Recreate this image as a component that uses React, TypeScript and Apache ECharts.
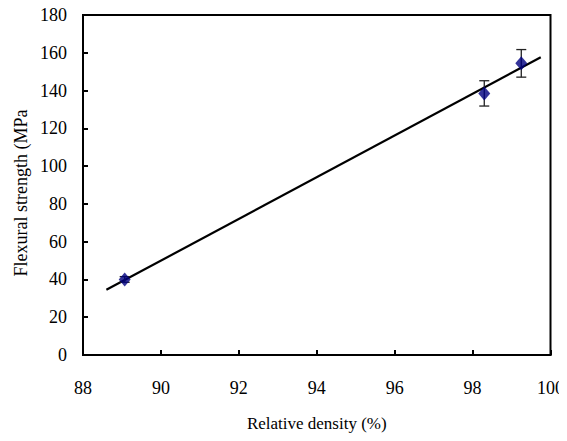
import React, { useEffect, useRef } from "react";
import * as echarts from "echarts";

const densities = [89.07, 98.3, 99.25];
const strengths = [40.0, 138.5, 154.4];
const errors = [1.5, 6.7, 7.3];
const fitX = [88.6, 99.75];
const fitY = [34.5, 157.6];
const xTicks = { min: 88, max: 100, interval: 2 };
const yTicks = { min: 0, max: 180, interval: 20 };

const FONT = "Liberation Serif";

export default function App() {
  const ref = useRef<HTMLDivElement>(null);
  useEffect(() => {
    if (!ref.current) return;
    const chart = echarts.init(ref.current, undefined, { renderer: "svg" });
    const errData = densities.map((d, i) => [d, strengths[i] - errors[i], strengths[i] + errors[i]]);
    chart.setOption({
      animation: false,
      backgroundColor: "#ffffff",
      textStyle: { fontFamily: FONT },
      grid: {
        left: 83,
        right: 15,
        top: 15,
        bottom: 86,
        show: true,
        borderColor: "#000",
        borderWidth: 2,
        containLabel: false,
      },
      xAxis: {
        type: "value",
        min: xTicks.min,
        max: xTicks.max,
        interval: xTicks.interval,
        splitLine: { show: false },
        axisLine: { show: true, lineStyle: { color: "#000", width: 2 } },
        axisTick: { show: true, inside: true, length: 5, lineStyle: { color: "#000", width: 2 } },
        axisLabel: { color: "#000", fontFamily: FONT, fontSize: 18, margin: 24 },
        name: "Relative density (%)",
        nameLocation: "middle",
        nameGap: 60,
        nameTextStyle: { color: "#000", fontFamily: FONT, fontSize: 17 },
      },
      yAxis: {
        type: "value",
        min: yTicks.min,
        max: yTicks.max,
        interval: yTicks.interval,
        splitLine: { show: false },
        axisLine: { show: true, lineStyle: { color: "#000", width: 2 } },
        axisTick: { show: true, inside: true, length: 5, lineStyle: { color: "#000", width: 2 } },
        axisLabel: { color: "#000", fontFamily: FONT, fontSize: 18, margin: 16 },
      },
      graphic: [
        {
          type: "text",
          x: 21,
          y: 193,
          rotation: Math.PI / 2,
          style: {
            text: "Flexural strength (MPa",
            fill: "#000",
            fontFamily: FONT,
            fontSize: 18,
            textAlign: "center",
            textVerticalAlign: "middle",
          },
        },
      ],
      series: [
        {
          type: "line",
          data: fitX.map((x, i) => [x, fitY[i]]),
          showSymbol: false,
          symbol: "none",
          lineStyle: { color: "#000", width: 2.2 },
          z: 2,
        },
        {
          type: "custom",
          data: errData,
          z: 3,
          renderItem: (params: any, api: any) => {
            const x = api.value(0);
            const lo = api.coord([x, api.value(1)]);
            const hi = api.coord([x, api.value(2)]);
            const hw = 5;
            const style = { stroke: "#222", lineWidth: 1.3 };
            return {
              type: "group",
              children: [
                { type: "line", shape: { x1: lo[0], y1: lo[1], x2: hi[0], y2: hi[1] }, style },
                { type: "line", shape: { x1: lo[0] - hw, y1: lo[1], x2: lo[0] + hw, y2: lo[1] }, style },
                { type: "line", shape: { x1: hi[0] - hw, y1: hi[1], x2: hi[0] + hw, y2: hi[1] }, style },
              ],
            };
          },
        },
        {
          type: "scatter",
          data: densities.map((d, i) => [d, strengths[i]]),
          symbol: "diamond",
          symbolSize: [12, 14],
          itemStyle: { color: "#000080" },
          z: 4,
        },
      ],
    });
    return () => chart.dispose();
  }, []);
  return <div ref={ref} style={{ width: 567, height: 441, margin: -8 }} />;
}
